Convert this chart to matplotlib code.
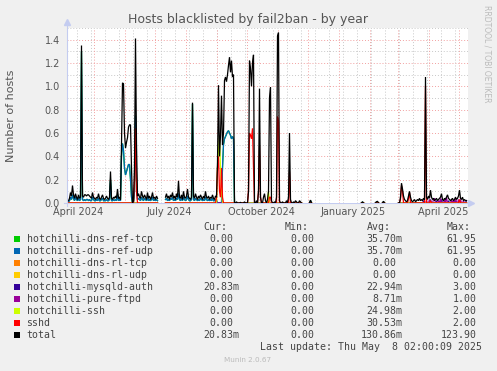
import numpy as np
import pandas as pd
import matplotlib
matplotlib.use("Agg")
import matplotlib.pyplot as plt
import matplotlib.dates as mdates
from matplotlib.patches import Rectangle

nan = np.nan
W, H = 497, 371

# daily samples, first one on start_day
start_day = "2024-04-06"
view_start = "2024-04-04 12:00"
view_end = "2025-05-10 12:00"

total = (
    [0.02, 0.04, 0.09, 0.06, 0.15, 0.07, 0.04, 0.08, 0.05, 0.03]
    + [0.07, 0.04, 0.05, 1.35, 0.06, 0.05, 0.07, 0.07, 0.06, 0.07]
    + [0.07, 0.06, 0.05, 0.04, 0.09, 0.05, 0.04, 0.03, 0.05, 0.04]
    + [0.08, 0.04, 0.03, 0.05, 0.07, 0.04, 0.03, 0.04, 0.06, 0.04]
    + [0.03, 0.05, 0.27, 0.04, 0.03, 0.05, 0.04, 0.06, 0.04, 0.12]
    + [0.04, 0.05, 0.03, 0.50, 1.03, 1.02, 0.60, 0.47, 0.52, 0.56]
    + [0.65, 0.67, 0.67, 0.30, 0.00, 0.02, 0.30, 1.41, 0.50, 0.06]
    + [0.08, 0.05, 0.04, 0.10, 0.06, 0.04, 0.07, 0.05, 0.03, 0.09]
    + [0.04, 0.06, 0.03, 0.05, 0.09, 0.04, 0.05, 0.03, 0.06, 0.04]
    + [nan] * 7 + [0.05, 0.08, 0.04]
    + [0.06, 0.03, 0.07, 0.05, 0.09, 0.04, 0.06, 0.03, 0.08, 0.05]
    + [0.19, 0.05, 0.04, 0.07, 0.03, 0.10, 0.05, 0.04, 0.06, 0.12]
    + [0.05, 0.04, 0.03, 0.05, 0.86, 0.06, 0.04, 0.08, 0.05, 0.03]
    + [0.06, 0.04, 0.07, 0.05, 0.03, 0.06, 0.04, 0.10, 0.05, 0.04]
    + [0.06, 0.03, 0.05, 0.04, 0.07, 0.04, 0.03, 0.06, 0.05, 0.35]
    + [1.01, 0.40, 0.58, 0.92, 0.50, 0.60, 1.05, 1.08, 1.04, 1.10]
    + [1.18, 1.25, 1.12, 1.22, 1.08, 1.10, 0.00, 0.00, 0.01, 0.00]
    + [0.00, 0.00, 0.005, 0.00, 0.00, 0.00, 0.01, 0.00, 0.00, 0.00]
    + [0.10, 1.22, 1.15, 1.00, 1.20, 1.27, 0.00, 0.00, 0.02, 0.00]
    + [0.10, 0.98, 0.05, 0.00, 0.00, 0.05, 0.08, 0.02, 0.00, 0.03]
    + [0.10, 0.90, 0.99, 0.02, 0.00, 0.00, 0.01, 0.00, 0.05, 1.43]
    + [1.46, 0.02, 0.00, 0.00, 0.01, 0.00, 0.00, 0.00, 0.02, 0.00]
    + [0.05, 0.60, 0.03, 0.00, 0.00, 0.01, 0.00, 0.02, 0.01, 0.00]
    + [0.00, 0.02, 0.01, 0.00] + [nan] * 6
    + [nan, 0.00, 0.025, 0.00] + [nan] * 6
    + [nan] * 40
    + [nan, nan, nan, 0.00, 0.01, 0.00, nan, nan, nan, nan]
    + [nan] * 7 + [0.00, 0.01, 0.015]
    + [0.00, nan, nan, nan, 0.00, 0.015, 0.00, nan, nan, nan]
    + [nan] * 10
    + [0.00, 0.00, 0.05, 0.17, 0.12, 0.06, 0.03, 0.02, 0.01, 0.02]
    + [0.06, 0.10, 0.05, 0.02, 0.01, 0.02, 0.03, 0.01, 0.02, 0.03]
    + [0.02, 0.04, 0.02, 0.03, 0.02, 0.04, 0.03, 1.08, 0.05, 0.03]
    + [0.06, 0.04, 0.11, 0.05, 0.03, 0.04, 0.02, 0.03, 0.04, 0.02]
    + [0.03, 0.04, 0.05, 0.08, 0.03, 0.02, 0.04, 0.03, 0.05, 0.07]
    + [0.04, 0.03, 0.02, 0.03, 0.04, 0.02, 0.03, 0.05, 0.03, 0.04]
    + [0.06, 0.11, 0.04, 0.03, 0.05, 0.02, 0.03, 0.02, 0.0208]
)

# dns-ref tcp and udp carry the same values
dns_ref = (
    [0.01, 0.02, 0.05, 0.03, 0.07, 0.04, 0.02, 0.05, 0.03, 0.02]
    + [0.04, 0.02, 0.03, 1.30, 0.03, 0.02, 0.03, 0.02, 0.03, 0.03]
    + [0.02, 0.03, 0.02, 0.02, 0.05, 0.03, 0.02, 0.02, 0.03, 0.02]
    + [0.04, 0.02, 0.02, 0.03, 0.04, 0.02, 0.02, 0.02, 0.03, 0.02]
    + [0.02, 0.03, 0.20, 0.02, 0.02, 0.03, 0.02, 0.03, 0.02, 0.07]
    + [0.02, 0.03, 0.02, 0.40, 0.51, 0.45, 0.30, 0.24, 0.27, 0.30]
    + [0.33, 0.33, 0.20, 0.05, 0.00, 0.01, 0.10, 0.75, 0.20, 0.03]
    + [0.04, 0.03, 0.02, 0.05, 0.03, 0.02, 0.04, 0.03, 0.02, 0.05]
    + [0.02, 0.03, 0.02, 0.03, 0.05, 0.02, 0.03, 0.02, 0.03, 0.02]
    + [0.00] * 7 + [0.03, 0.04, 0.02]
    + [0.03, 0.02, 0.04, 0.03, 0.05, 0.02, 0.03, 0.02, 0.04, 0.03]
    + [0.08, 0.03, 0.02, 0.04, 0.02, 0.05, 0.03, 0.02, 0.03, 0.06]
    + [0.03, 0.02, 0.02, 0.03, 0.85, 0.03, 0.02, 0.04, 0.03, 0.02]
    + [0.03, 0.02, 0.04, 0.03, 0.02, 0.03, 0.02, 0.05, 0.03, 0.02]
    + [0.03, 0.02, 0.03, 0.02, 0.04, 0.02, 0.02, 0.03, 0.02, 0.00]
    + [0.00, 0.00, 0.00, 0.00, 0.30, 0.50, 0.55, 0.57, 0.59, 0.61]
    + [0.62, 0.60, 0.58, 0.55, 0.57, 0.55, 0.00, 0.00, 0.00, 0.00]
)
dns_ref_late = {242: 0.02, 294: 0.008, 308: 0.01, 315: 0.01}

# other series: day index -> value, zero elsewhere
sshd = {66: 0.20, 67: 0.64, 68: 0.10, 148: 0.05, 149: 0.30, 150: 0.40,
        151: 0.10, 152: 0.05, 153: 0.30, 154: 0.05, 180: 0.10, 181: 0.60,
        182: 0.58, 183: 0.55, 184: 0.64, 185: 0.30, 190: 0.10, 191: 0.49,
        192: 0.05, 201: 0.05, 202: 0.05, 209: 0.74, 210: 0.70, 221: 0.27,
        332: 0.03, 333: 0.15, 334: 0.10, 340: 0.04, 341: 0.09, 357: 1.00,
        362: 0.02, 391: 0.03}
ssh = {149: 0.30, 150: 0.45, 151: 0.58, 152: 0.30, 153: 0.10, 200: 0.10,
       339: 0.01, 362: 0.01}
mysqld = {355: 0.02, 362: 0.03, 368: 0.02, 373: 0.03, 380: 0.02, 387: 0.03,
          391: 0.02, 398: 0.0208}
ftpd = {358: 0.02, 361: 0.03, 365: 0.03, 366: 0.04, 370: 0.02, 372: 0.04,
        376: 0.03, 378: 0.05, 383: 0.03, 385: 0.02, 387: 0.04, 390: 0.03,
        392: 0.03, 395: 0.02}

names = ["hotchilli-dns-ref-tcp", "hotchilli-dns-ref-udp", "hotchilli-dns-rl-tcp",
         "hotchilli-dns-rl-udp", "hotchilli-mysqld-auth", "hotchilli-pure-ftpd",
         "hotchilli-ssh", "sshd", "total"]
colors = ["#00CC00", "#0066B3", "#FF8000", "#FFCC00", "#330099", "#990099",
          "#CCFF00", "#FF0000", "#000000"]
cur = ["0.00", "0.00", "0.00", "0.00", "20.83m", "0.00", "0.00", "0.00", "20.83m"]
mins = ["0.00"] * 9
avgs = ["35.70m", "35.70m", "0.00", "0.00", "22.94m", "8.71m", "24.98m", "30.53m", "130.86m"]
maxs = ["61.95", "61.95", "0.00", "0.00", "3.00", "1.00", "2.00", "2.00", "123.90"]

label_months = ["2024-04-16", "2024-07-16", "2024-10-16", "2025-01-16", "2025-04-16"]
label_texts = ["April 2024", "July 2024", "October 2024", "January 2025", "April 2025"]

total_arr = np.array(total, dtype=float)
n = len(total_arr)


def daily(events, base=None):
    arr = np.zeros(n)
    if base is not None:
        arr[:len(base)] = base
    for k, v in events.items():
        arr[k] = v
    arr[np.isnan(total_arr)] = nan
    return arr


ref = daily(dns_ref_late, dns_ref)
zero = daily({})
series = [ref, ref, zero, zero, daily(mysqld), daily(ftpd), daily(ssh), daily(sshd), total_arr]

days = mdates.date2num(pd.date_range(start_day, periods=n, freq="D").to_pydatetime())
x0 = mdates.date2num(pd.Timestamp(view_start).to_pydatetime())
x1 = mdates.date2num(pd.Timestamp(view_end).to_pydatetime())

fig = plt.figure(figsize=(W / 100, H / 100), dpi=100)
fig.patch.set_facecolor("#F0F0F0")
ax = fig.add_axes([67 / W, 1 - 203 / H, 401 / W, 175 / H])
ax.set_facecolor("white")
ax.set_xlim(x0, x1)
ax.set_ylim(0, 1.5)

# grid: grey every 0.1 / two weeks, red every 0.2 / month
dot = (0, (1, 2))
for v in np.arange(0.1, 1.5, 0.2):
    ax.axhline(v, color="#C8C8C8", lw=0.7, ls=dot, zorder=0)
for v in np.arange(0.2, 1.5, 0.2):
    ax.axhline(v, color="#F2A0A0", lw=0.7, ls=dot, zorder=0)
ax.axhline(1.5, color="#C8C8C8", lw=0.7, ls=dot, zorder=0)
for d in pd.date_range("2024-04-14", "2025-05-10", freq="14D"):
    ax.axvline(mdates.date2num(d.to_pydatetime()), color="#C8C8C8", lw=0.7, ls=dot, zorder=0)
for d in pd.date_range("2024-05-01", "2025-05-01", freq="MS"):
    ax.axvline(mdates.date2num(d.to_pydatetime()), color="#F2A0A0", lw=0.7, ls=dot, zorder=0)

for y, c in zip(series, colors):
    ax.plot(days, y, color=c, lw=0.9, solid_joinstyle="miter")

for s in ["top", "right", "left", "bottom"]:
    ax.spines[s].set_visible(False)

ax.set_yticks(np.arange(0, 1.41, 0.2))
ax.set_yticklabels([f"{v:.1f}" for v in np.arange(0, 1.41, 0.2)])
ax.set_xticks([mdates.date2num(pd.Timestamp(d).to_pydatetime()) for d in label_months])
ax.set_xticklabels(label_texts)
ax.tick_params(axis="both", length=0, labelsize=7, labelcolor="#555555")
ax.tick_params(axis="y", pad=5)
ax.tick_params(axis="x", pad=3)


def fx(x):
    return x / W


def fy(y):
    return 1 - y / H


axis_col = "#C4CCF0"
fig.add_artist(plt.Line2D([fx(67), fx(67)], [fy(206), fy(23)], color=axis_col, lw=0.8))
fig.add_artist(plt.Line2D([fx(64), fx(470)], [fy(203), fy(203)], color=axis_col, lw=0.8, zorder=0))
fig.add_artist(plt.Line2D([fx(67)], [fy(22)], marker="^", ms=4, color=axis_col, mec=axis_col))
fig.add_artist(plt.Line2D([fx(471)], [fy(203)], marker=">", ms=4, color=axis_col, mec=axis_col))

fig.text(fx(248), fy(19), "Hosts blacklisted by fail2ban - by year", ha="center", va="center",
         fontsize=9, color="#555555")
fig.text(fx(11), fy(115.5), "Number of hosts", rotation=90, ha="center", va="center",
         fontsize=8, color="#555555")
fig.text(fx(487), fy(5), "RRDTOOL / TOBI OETIKER", rotation=270, ha="center", va="top",
         fontsize=5.5, color="#BBBBBB")

mono = dict(family="DejaVu Sans Mono", fontsize=7.1, color="#444444", va="center")
cw = 5.95
col_right = [239, 320.5, 402.3, 482.6]
header_y = 227.3
for r, h in zip(col_right, ["Cur:", "Min:", "Avg:", "Max:"]):
    fig.text(fx(r - 2 * cw), fy(header_y), h, ha="right", **mono)

for i, name in enumerate(names):
    y = 239.3 + 12 * i
    fig.add_artist(Rectangle((fx(14), fy(y + 3)), 6 / W, 6 / H, transform=fig.transFigure,
                             facecolor=colors[i], edgecolor="none"))
    fig.text(fx(26.5), fy(y), name, ha="left", **mono)
    for r, vals in zip(col_right, [cur, mins, avgs, maxs]):
        s = vals[i]
        right = r if s.endswith("m") else r - cw
        fig.text(fx(right), fy(y), s, ha="right", **mono)

fig.text(fx(482.3), fy(347.3), "Last update: Thu May  8 02:00:09 2025", ha="right", **mono)
fig.text(fx(248), fy(360), "Munin 2.0.67", ha="center", va="center", fontsize=5.2, color="#BBBBBB")

fig.savefig("out.png", dpi=100, facecolor=fig.get_facecolor())
